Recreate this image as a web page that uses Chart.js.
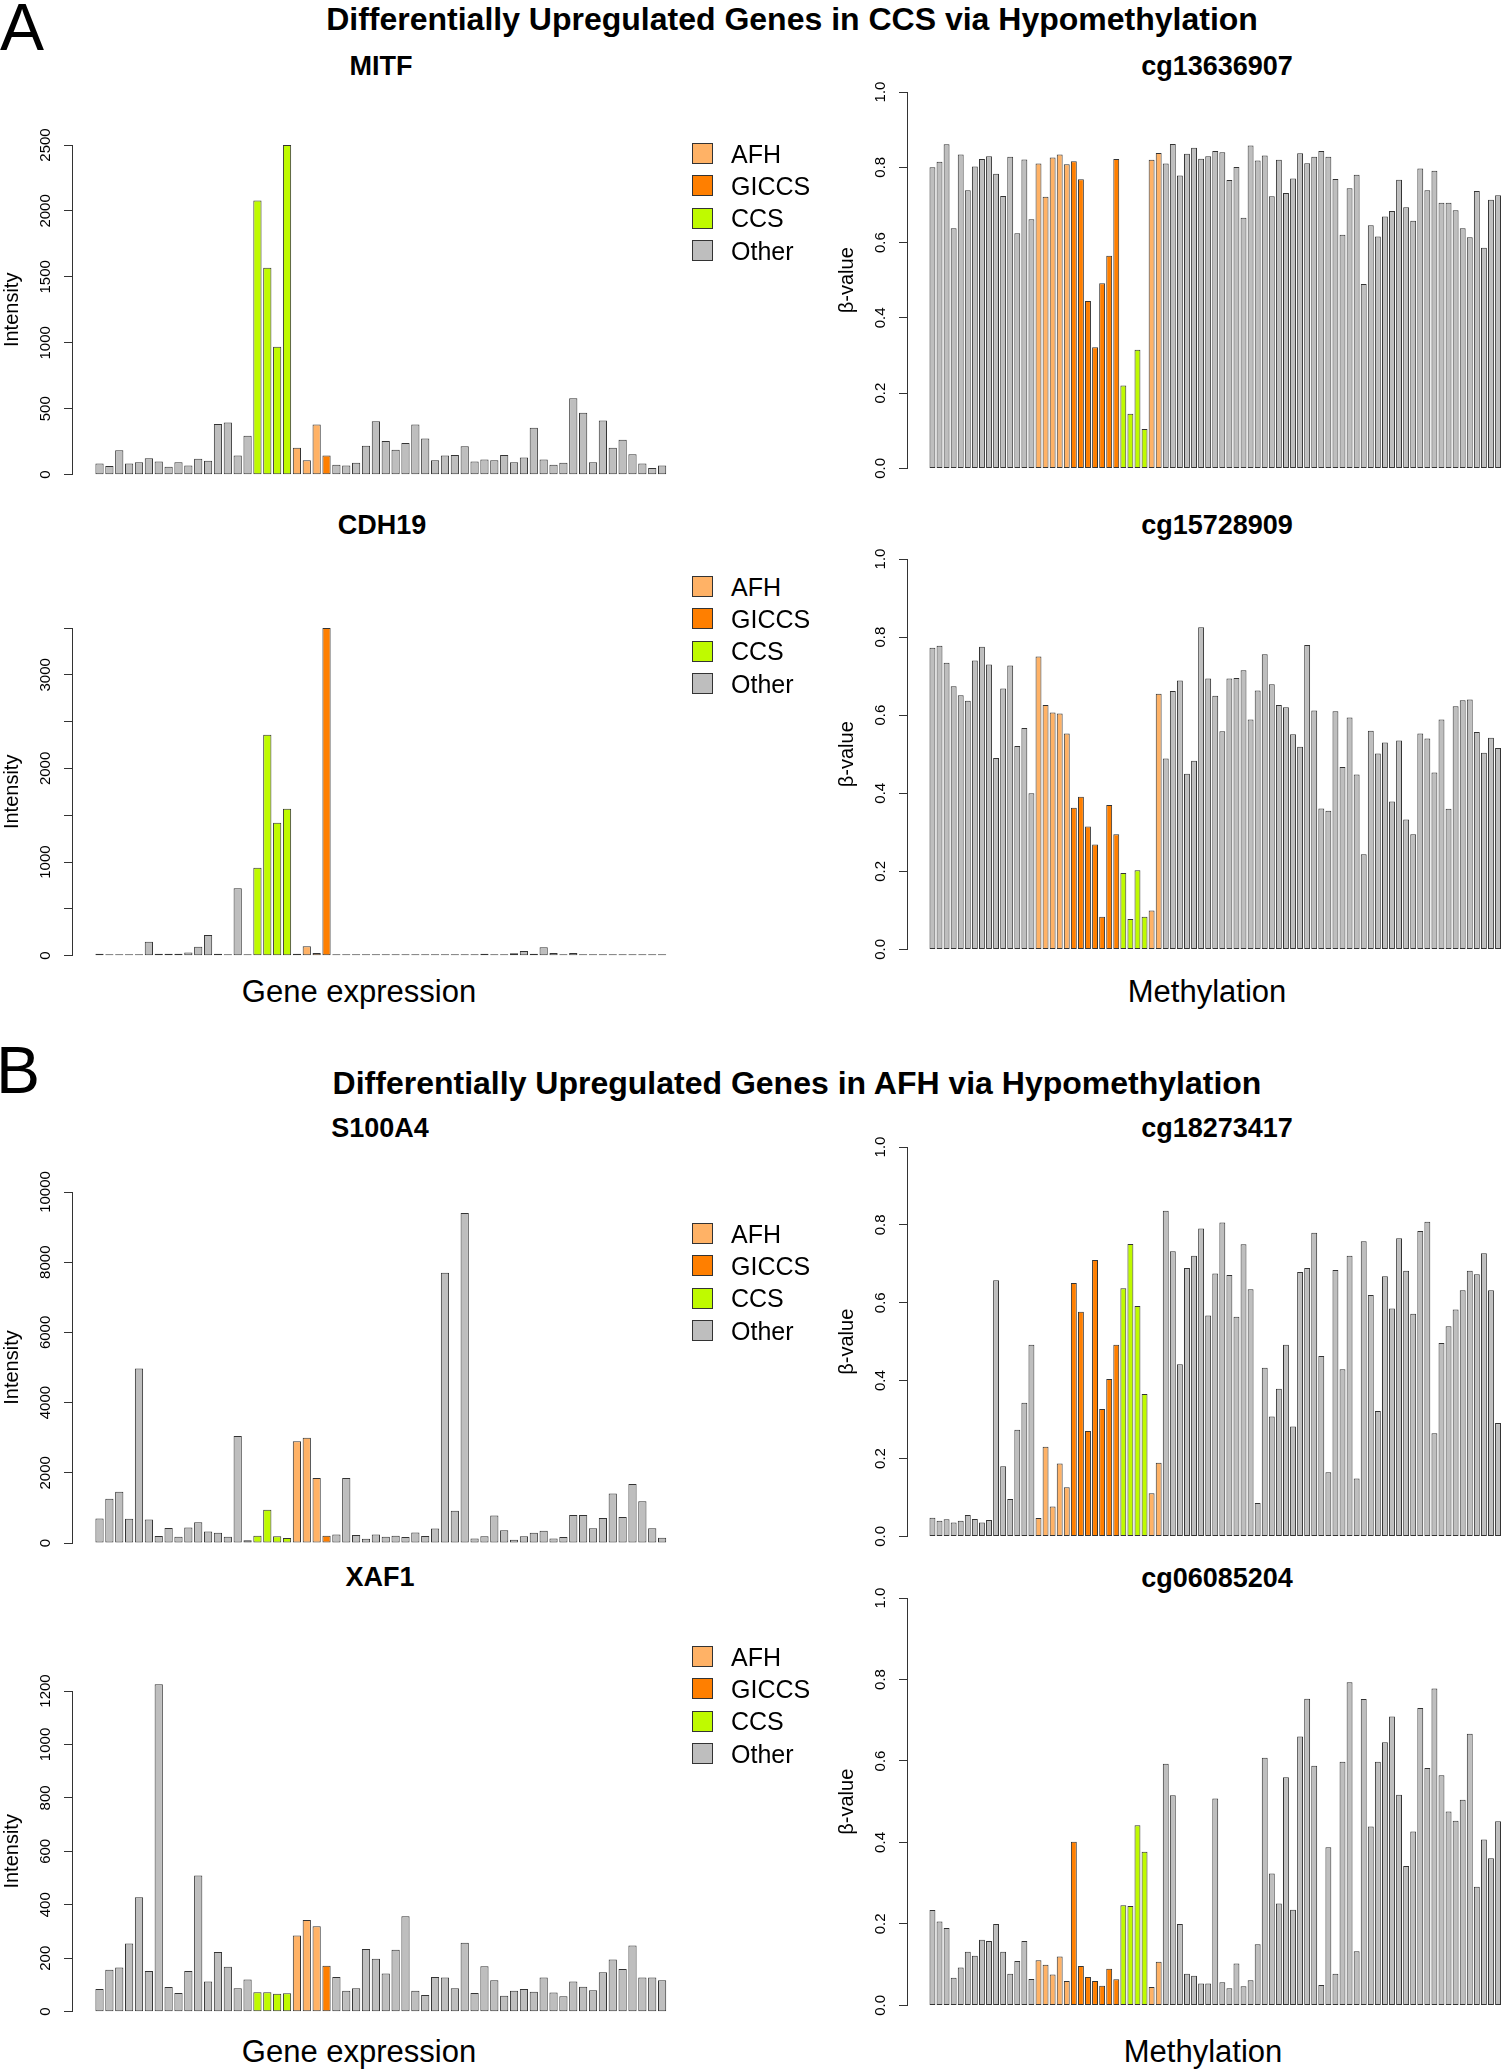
<!DOCTYPE html>
<html>
<head>
<meta charset="utf-8">
<script src="https://cdn.jsdelivr.net/npm/chart.js@4.4.0/dist/chart.umd.min.js"></script>
<style>
  html, body { margin: 0; padding: 0; overflow: hidden; background: #fff; }
  body { width: 1504px; height: 2070px; position: relative; font-family: "Liberation Sans", Arial, Helvetica, sans-serif; color: #000; }
  canvas { position: absolute; }
  .t { position: absolute; line-height: 1; white-space: nowrap; transform: translate(-50%, -50%); }
  .big { position: absolute; line-height: 1; font-size: 66px; transform: translateY(-50%); }
  .h1 { font-size: 32px; font-weight: bold; }
  .h2 { font-size: 27px; font-weight: bold; }
  .xl { font-size: 31px; }
  .key { position: absolute; width: 19px; height: 19px; border: 1px solid #333; }
  .keytxt { position: absolute; line-height: 1; font-size: 25px; transform: translateY(-50%); white-space: nowrap; }
</style>
</head>
<body>

<div class="big" style="left:0;top:27px">A</div>
<div class="t h1" style="left:792px;top:19px">Differentially Upregulated Genes in CCS via Hypomethylation</div>
<div class="t h2" style="left:381px;top:66px">MITF</div>
<div class="t h2" style="left:1217px;top:66px">cg13636907</div>
<div class="t h2" style="left:382px;top:525px">CDH19</div>
<div class="t h2" style="left:1217px;top:525px">cg15728909</div>
<div class="t xl" style="left:359px;top:991px">Gene expression</div>
<div class="t xl" style="left:1207px;top:991px">Methylation</div>

<div class="big" style="left:-4px;top:1070px">B</div>
<div class="t h1" style="left:797px;top:1083px">Differentially Upregulated Genes in AFH via Hypomethylation</div>
<div class="t h2" style="left:380px;top:1128px">S100A4</div>
<div class="t h2" style="left:1217px;top:1128px">cg18273417</div>
<div class="t h2" style="left:380px;top:1577px">XAF1</div>
<div class="t h2" style="left:1217px;top:1578px">cg06085204</div>
<div class="t xl" style="left:359px;top:2051px">Gene expression</div>
<div class="t xl" style="left:1203px;top:2051px">Methylation</div>

<canvas id="mitf" width="700" height="365" style="left:0;top:120px"></canvas>
<canvas id="cdh19" width="700" height="363" style="left:0;top:603px"></canvas>
<canvas id="s100a4" width="700" height="386" style="left:0;top:1167px"></canvas>
<canvas id="xaf1" width="700" height="356" style="left:0;top:1666px"></canvas>
<canvas id="cg13636907" width="674" height="418" style="left:830px;top:67px"></canvas>
<canvas id="cg15728909" width="674" height="432" style="left:830px;top:534px"></canvas>
<canvas id="cg18273417" width="674" height="431" style="left:830px;top:1122px"></canvas>
<canvas id="cg06085204" width="674" height="449" style="left:830px;top:1573px"></canvas>

<script>
const groupColors = { AFH: '#FFB266', GICCS: '#FF7F00', CCS: '#BFFA00', Other: '#BEBEBE' };
const legendOrder = ['AFH', 'GICCS', 'CCS', 'Other'];

// sample groups, as runs of consecutive bars
const geneGroupRuns = [['Other', 16], ['CCS', 4], ['AFH', 3], ['GICCS', 1], ['Other', 34]];
const methGroupRuns = [['Other', 15], ['AFH', 5], ['GICCS', 7], ['CCS', 4], ['AFH', 2], ['Other', 48]];

// gene expression (intensity)
const mitf = [85,65,185,85,95,125,100,60,95,70,120,105,385,395,145,295,2080,1570,970,2500,
  205,110,380,145,75,70,90,220,405,255,190,240,380,275,110,145,150,215,100,115,
  110,150,95,130,355,115,75,90,580,470,95,410,205,265,155,85,50,70];
const cdh19 = [20,15,15,15,15,150,20,20,20,35,95,220,20,15,720,15,940,2360,1420,1570,
  20,100,30,3500,15,15,15,15,15,15,15,15,15,15,15,15,15,15,15,20,
  15,15,25,50,20,90,30,15,30,15,15,15,15,15,15,15,15,15];
const s100a4 = [700,1260,1460,690,4970,670,200,430,180,440,590,330,290,180,3050,80,210,950,190,140,
  2900,3000,1850,210,240,1850,230,120,240,180,210,170,300,200,410,7700,920,9400,130,190,
  780,360,90,190,290,350,130,170,800,800,420,710,1410,740,1680,1190,420,150];
const xaf1 = [85,157,165,255,428,152,1225,92,70,152,510,113,223,168,88,120,73,73,67,69,
  285,343,320,172,130,78,88,235,198,143,232,357,78,62,130,128,88,258,70,170,
  118,60,78,85,75,128,72,58,113,93,80,148,195,160,248,128,128,118];

// methylation (beta-value)
const cg13636907 = [0.800,0.815,0.861,0.638,0.834,0.739,0.802,0.822,0.829,0.783,0.724,0.828,0.625,0.821,0.662,
  0.810,0.722,0.826,0.834,0.808, 0.816,0.768,0.445,0.322,0.492,0.565,0.822, 0.220,0.145,0.315,0.105, 0.820,0.838,
  0.810,0.862,0.778,0.836,0.852,0.823,0.829,0.843,0.840,0.766,0.801,0.666,0.858,0.818,0.831,0.723,0.820,0.732,
  0.770,0.837,0.811,0.828,0.843,0.828,0.769,0.621,0.744,0.780,0.490,0.646,0.616,0.669,0.684,0.767,0.694,0.658,
  0.797,0.739,0.791,0.706,0.706,0.686,0.638,0.614,0.737,0.586,0.714,0.726];
const cg15728909 = [0.773,0.778,0.734,0.674,0.651,0.637,0.740,0.775,0.730,0.490,0.668,0.727,0.521,0.567,0.400,
  0.750,0.626,0.607,0.604,0.553, 0.363,0.391,0.315,0.269,0.084,0.370,0.295, 0.196,0.078,0.203,0.084, 0.100,0.655,
  0.489,0.662,0.689,0.450,0.483,0.825,0.694,0.650,0.559,0.694,0.695,0.715,0.589,0.663,0.756,0.679,0.626,0.620,
  0.551,0.519,0.780,0.612,0.361,0.355,0.610,0.467,0.594,0.448,0.244,0.560,0.502,0.530,0.379,0.535,0.333,0.295,
  0.553,0.540,0.453,0.589,0.360,0.623,0.638,0.640,0.557,0.504,0.542,0.516];
const cg18273417 = [0.048,0.040,0.044,0.036,0.040,0.055,0.045,0.036,0.042,0.658,0.180,0.096,0.274,0.343,0.492,
  0.047,0.230,0.077,0.187,0.126, 0.651,0.577,0.271,0.710,0.327,0.404,0.492, 0.637,0.751,0.592,0.366, 0.111,0.189,
  0.836,0.732,0.442,0.689,0.721,0.791,0.567,0.675,0.806,0.671,0.564,0.750,0.635,0.086,0.433,0.308,0.379,0.492,
  0.282,0.679,0.689,0.780,0.463,0.165,0.684,0.429,0.721,0.149,0.758,0.620,0.322,0.668,0.585,0.766,0.682,0.572,
  0.784,0.808,0.265,0.497,0.540,0.583,0.632,0.682,0.673,0.727,0.632,0.291];
const cg06085204 = [0.234,0.206,0.190,0.068,0.093,0.132,0.122,0.161,0.158,0.200,0.132,0.078,0.109,0.158,0.065,
  0.111,0.100,0.076,0.120,0.060, 0.402,0.097,0.070,0.060,0.048,0.090,0.064, 0.246,0.244,0.442,0.377, 0.045,0.107,
  0.593,0.516,0.200,0.078,0.073,0.054,0.054,0.508,0.057,0.042,0.103,0.047,0.062,0.150,0.608,0.324,0.250,0.560,
  0.235,0.660,0.753,0.588,0.050,0.388,0.078,0.598,0.793,0.133,0.752,0.439,0.598,0.646,0.709,0.517,0.342,0.427,
  0.730,0.583,0.778,0.565,0.476,0.453,0.505,0.667,0.291,0.407,0.361,0.452];

const FONT = '"Liberation Sans", Arial, Helvetica, sans-serif';
Chart.defaults.font.family = FONT;

function expandRuns(runs) {
  return runs.flatMap(([g, n]) => Array(n).fill(g));
}

// axis / layout settings for the two kinds of panel
const geneAxis = { axisX: 72, gap: 23.4, pitch: 9.87, title: 'Intensity', titlePad: 0, decimals: 0 };
const methAxis = { axisX: 77, gap: 22.5, pitch: 7.07, title: 'β-value', titlePad: 5, decimals: 1,
                   min: 0, max: 1, step: 0.2 };

function barChart(id, values, groups, ax) {
  const canvas = document.getElementById(id);
  const tickLen = 8;
  const fmt = v => v.toFixed(ax.decimals);
  const shown = v => !ax.labelEvery || Math.abs(v / ax.labelEvery - Math.round(v / ax.labelEvery)) < 1e-6;

  // rotated labels are centred ~26px left of the axis line
  const mctx = document.createElement('canvas').getContext('2d');
  mctx.font = '15px ' + FONT;
  let widest = 0;
  for (let v = ax.min; v <= ax.max + 1e-9; v += ax.step) {
    if (shown(v)) widest = Math.max(widest, mctx.measureText(fmt(v)).width);
  }

  // x range so bars keep the R barplot spacing (width : gap = 1 : 0.2)
  const xMin = 1 - 0.5 / 1.2 - ax.gap / ax.pitch;
  const xMax = xMin + (canvas.width - ax.axisX) / ax.pitch;

  return new Chart(canvas, {
    type: 'bar',
    data: {
      datasets: [{
        data: values.map((v, i) => ({ x: i + 1, y: v })),
        backgroundColor: groups.map(g => groupColors[g]),
        borderColor: '#333',
        borderWidth: 1,
        borderSkipped: false,
        categoryPercentage: 1,
        barPercentage: 1 / 1.2,
        clip: false
      }]
    },
    options: {
      responsive: false,
      animation: false,
      devicePixelRatio: 1,
      layout: { padding: { top: 25, bottom: 10, left: 0, right: 0 } },
      plugins: { legend: { display: false }, tooltip: { enabled: false } },
      scales: {
        x: { type: 'linear', display: false, offset: false, grid: { offset: false },
             min: xMin, max: xMax, ticks: { stepSize: 10 } },
        y: {
          min: ax.min, max: ax.max,
          afterFit: s => { s.width = ax.axisX; },
          border: { display: true, color: '#333', width: 1 },
          grid: { drawOnChartArea: false, tickLength: tickLen, tickColor: '#333', color: '#333' },
          ticks: {
            stepSize: ax.step, autoSkip: false,
            minRotation: 90, maxRotation: 90, crossAlign: 'center',
            padding: 26 - tickLen - widest / 2,
            color: '#000', font: { family: FONT, size: 15 },
            callback: v => shown(v) ? fmt(v) : ''
          },
          title: { display: true, text: ax.title, color: '#000', font: { family: FONT, size: 20 },
                   padding: { top: ax.titlePad, bottom: 0 } }
        }
      }
    }
  });
}

const geneGroups = expandRuns(geneGroupRuns);
const methGroups = expandRuns(methGroupRuns);

barChart('mitf', mitf, geneGroups, { ...geneAxis, min: 0, max: 2500, step: 500 });
barChart('cdh19', cdh19, geneGroups, { ...geneAxis, min: 0, max: 3500, step: 500, labelEvery: 1000 });
barChart('s100a4', s100a4, geneGroups, { ...geneAxis, min: 0, max: 10000, step: 2000 });
barChart('xaf1', xaf1, geneGroups, { ...geneAxis, min: 0, max: 1200, step: 200 });

barChart('cg13636907', cg13636907, methGroups, methAxis);
barChart('cg15728909', cg15728909, methGroups, methAxis);
barChart('cg18273417', cg18273417, methGroups, methAxis);
barChart('cg06085204', cg06085204, methGroups, methAxis);

// legends beside each gene-expression panel
const legendTops = [143, 576, 1223, 1646];
legendTops.forEach(top => {
  legendOrder.forEach((g, k) => {
    const y = top + k * 32.4;
    const box = document.createElement('div');
    box.className = 'key';
    box.style.cssText = `left:692px;top:${y}px;background:${groupColors[g]}`;
    document.body.appendChild(box);
    const txt = document.createElement('div');
    txt.className = 'keytxt';
    txt.style.cssText = `left:731px;top:${y + 10.5}px`;
    txt.textContent = g;
    document.body.appendChild(txt);
  });
});
</script>
</body>
</html>
